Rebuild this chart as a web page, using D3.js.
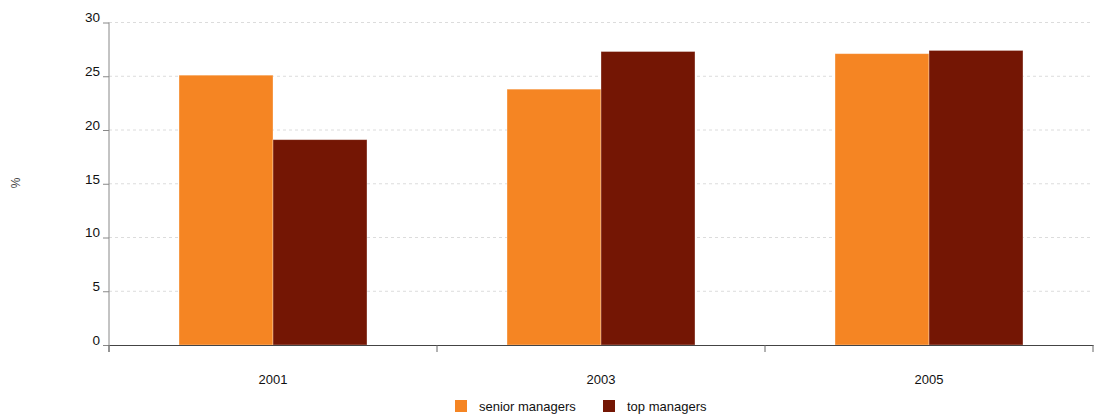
<!DOCTYPE html>
<html>
<head>
<meta charset="utf-8">
<script src="https://cdn.jsdelivr.net/npm/d3@7"></script>
<style>
  body { margin: 0; background: #fff; }
  svg { font-family: "Liberation Sans", Arial, sans-serif; }
</style>
</head>
<body>
<svg id="chart"></svg>
<script>
var width = 1099, height = 414;
var margin = {top: 22.5, right: 6, bottom: 69, left: 109};

var years = ["2001", "2003", "2005"];
var seriesNames = ["senior managers", "top managers"];
var seniorValues = [25.1, 23.8, 27.1];
var topValues = [19.1, 27.3, 27.4];
var yTicks = [0, 5, 10, 15, 20, 25, 30];
var colors = ["#f58523", "#741604"];

var svg = d3.select("#chart")
    .attr("width", width)
    .attr("height", height);

var innerW = width - margin.left - margin.right;
var innerH = height - margin.top - margin.bottom;

var g = svg.append("g")
    .attr("transform", "translate(" + margin.left + "," + margin.top + ")");

var x0 = d3.scaleBand()
    .domain(years)
    .range([0, innerW]);

var x1 = d3.scaleBand()
    .domain(seriesNames)
    .range([0, x0.bandwidth()])
    .paddingOuter(0.745)
    .paddingInner(0);

var y = d3.scaleLinear()
    .domain([0, 30])
    .range([innerH, 0]);

// grid lines
g.append("g")
    .selectAll("line")
    .data(yTicks.filter(d => d > 0))
    .enter().append("line")
    .attr("x1", 0)
    .attr("x2", innerW)
    .attr("y1", d => y(d))
    .attr("y2", d => y(d))
    .attr("stroke", "#dcdcdc")
    .attr("stroke-dasharray", "3,3");

// bars
var rows = years.map((yr, i) => ({year: yr, values: [seniorValues[i], topValues[i]]}));

var group = g.selectAll(".year")
    .data(rows)
    .enter().append("g")
    .attr("transform", d => "translate(" + x0(d.year) + ",0)");

group.selectAll("rect")
    .data(d => d.values.map((v, j) => ({name: seriesNames[j], value: v, j: j})))
    .enter().append("rect")
    .attr("x", d => x1(d.name))
    .attr("width", x1.bandwidth())
    .attr("y", d => y(d.value))
    .attr("height", d => innerH - y(d.value))
    .attr("fill", d => colors[d.j])
    .attr("stroke", "rgba(255,255,255,0.4)")
    .attr("stroke-width", 0.8);

// y axis
var yAxis = g.append("g")
    .call(d3.axisLeft(y).tickValues(yTicks).tickSize(6).tickPadding(3));
yAxis.select(".domain").attr("stroke", "#888").attr("d", "M0,0V" + (innerH + 7));
yAxis.selectAll(".tick line").attr("stroke", "#888");
yAxis.selectAll(".tick text")
    .attr("fill", "#111")
    .style("font-size", "13.5px")
    .attr("dy", "-0.05em");

// x axis
var xAxis = g.append("g")
    .attr("transform", "translate(0," + innerH + ")")
    .call(d3.axisBottom(x0).tickSize(0).tickPadding(30));
xAxis.select(".domain").attr("stroke", "#444");
xAxis.selectAll(".tick text").attr("fill", "#111").style("font-size", "13px");

// boundary ticks between bands
g.append("g")
    .selectAll("line")
    .data(years.map(d => x0(d)).concat([innerW]))
    .enter().append("line")
    .attr("x1", d => d)
    .attr("x2", d => d)
    .attr("y1", innerH)
    .attr("y2", innerH + 7)
    .attr("stroke", "#666");

// y label
svg.append("text")
    .attr("transform", "translate(20,183) rotate(-90)")
    .attr("text-anchor", "middle")
    .attr("fill", "#444")
    .style("font-size", "12px")
    .text("%");

// legend
var legend = svg.append("g")
    .attr("transform", "translate(455,400)");
var legendX = [0, 148];
var item = legend.selectAll("g")
    .data(seriesNames)
    .enter().append("g")
    .attr("transform", (d, i) => "translate(" + legendX[i] + ",0)");
item.append("rect")
    .attr("width", 12)
    .attr("height", 12)
    .attr("fill", (d, i) => colors[i]);
item.append("text")
    .attr("x", 24)
    .attr("y", 11)
    .attr("fill", "#111")
    .style("font-size", "13px")
    .text(d => d);
</script>
</body>
</html>
